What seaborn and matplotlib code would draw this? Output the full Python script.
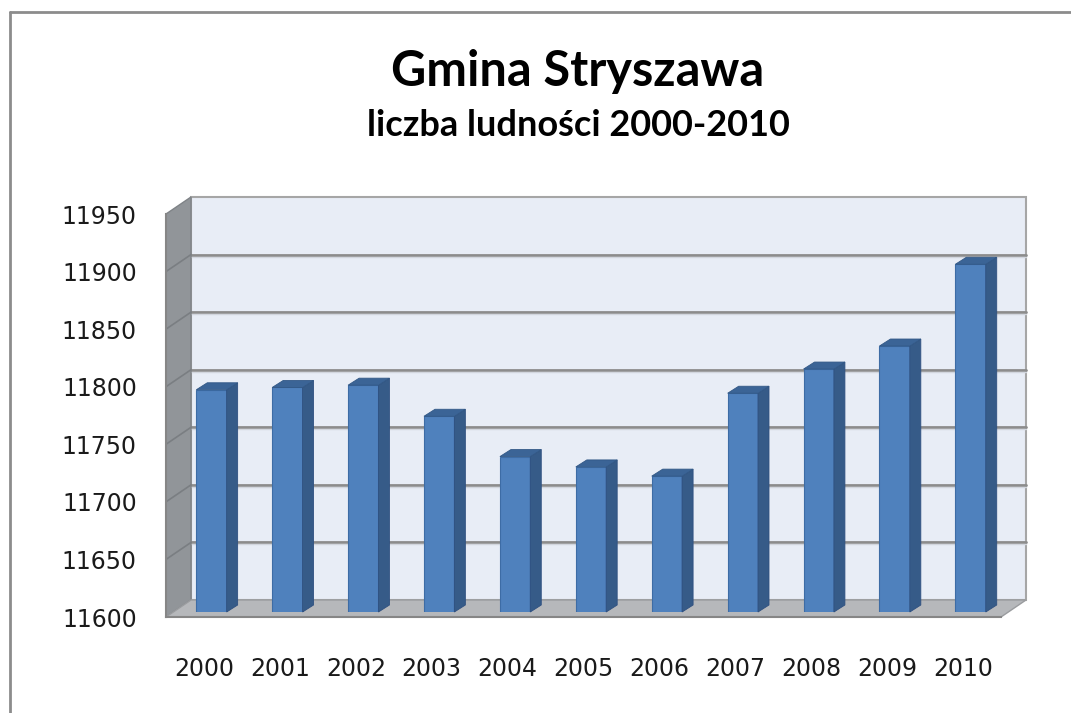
import numpy as np
import pandas as pd
import matplotlib
matplotlib.use("Agg")
import matplotlib.pyplot as plt
import seaborn as sns
from matplotlib.patches import Polygon
from matplotlib.lines import Line2D
from matplotlib.transforms import IdentityTransform

# data
years = ["2000", "2001", "2002", "2003", "2004", "2005",
         "2006", "2007", "2008", "2009", "2010"]
population = [11793, 11795, 11797, 11770, 11735, 11726,
              11718, 11790, 11811, 11831, 11902]
y_ticks = [11600, 11650, 11700, 11750, 11800, 11850, 11900, 11950]

title = "Gmina Stryszawa"
subtitle = "liczba ludności 2000-2010"

df = pd.DataFrame({"rok": years, "ludnosc": population})

sns.set_style("white")
plt.rcParams["font.family"] = ["Lato", "DejaVu Sans"]

W, H = 1071, 713
fig = plt.figure(figsize=(W / 100, H / 100), dpi=100)

# front plane of the 3d box (pixels from top-left of the image)
fx0, fx1, fy_top, fy_bot = 166, 1001, 214, 617
DX, DY = 25, 17          # depth of the box
BX, BY = 7.5, 5          # where the bar fronts sit
bdx, bdy = 11, 7         # depth of each bar

def fpos(x0, x1, ytop, ybot):
    return [x0 / W, 1 - ybot / H, (x1 - x0) / W, (ybot - ytop) / H]

ax = fig.add_axes(fpos(fx0, fx1, fy_top, fy_bot))
ax.set_facecolor("none")
ax.set_xlim(-0.5, 10.5)
ax.set_ylim(11600, 11950)

idt = IdentityTransform()

def px(x, y):
    # image pixel (top-left origin) -> display
    return (x, H - y)

# back wall
ax.add_patch(Polygon([px(fx0 + DX, fy_top - DY), px(fx1 + DX, fy_top - DY),
                      px(fx1 + DX, fy_bot - DY), px(fx0 + DX, fy_bot - DY)],
                     closed=True, transform=idt, facecolor="#e8edf6",
                     edgecolor="#a6a6a6", lw=1.5, clip_on=False, zorder=0))
# left wall
ax.add_patch(Polygon([px(fx0, fy_bot), px(fx0, fy_top),
                      px(fx0 + DX, fy_top - DY), px(fx0 + DX, fy_bot - DY)],
                     closed=True, transform=idt, facecolor="#919599",
                     edgecolor="#7f8387", lw=1, clip_on=False, zorder=0.5))
# floor
ax.add_patch(Polygon([px(fx0, fy_bot), px(fx1, fy_bot),
                      px(fx1 + DX, fy_bot - DY), px(fx0 + DX, fy_bot - DY)],
                     closed=True, transform=idt, facecolor="#b6b8bb",
                     edgecolor="#9a9c9f", lw=1, clip_on=False, zorder=0.5))

# gridlines on the back wall and the left wall
for v in y_ticks[1:-1]:
    yd = ax.transData.transform((0, v))[1]
    xl = ax.transData.transform((-0.5, v))[0]
    xr = ax.transData.transform((10.5, v))[0]
    ax.add_line(Line2D([xl + DX, xr + DX], [yd + DY, yd + DY], transform=idt,
                       color="#8c8c8c", lw=2, clip_on=False, zorder=0.3))
    ax.add_line(Line2D([xl + DX, xr + DX], [yd + DY - 2, yd + DY - 2], transform=idt,
                       color="#d2d6de", lw=1, clip_on=False, zorder=0.3))
    ax.add_line(Line2D([xl, xl + DX], [yd, yd + DY], transform=idt,
                       color="#7a7e82", lw=1.2, clip_on=False, zorder=0.6))

# bars: their own axes, shifted a bit into the box
axb = fig.add_axes(fpos(fx0 + BX, fx1 + BX, fy_top - BY, fy_bot - BY))
axb.set_facecolor("none")
sns.barplot(data=df, x="rok", y="ludnosc", color="#4f81bd", width=0.4,
            saturation=1, edgecolor="#3d6ca5", linewidth=0.8, ax=axb)
axb.set_xlim(-0.5, 10.5)
axb.set_ylim(11600, 11950)
axb.axis("off")

ybase = axb.transAxes.transform((0, 0))[1]
for p in axb.patches:
    x0 = axb.transData.transform((p.get_x(), 0))[0]
    x1 = axb.transData.transform((p.get_x() + p.get_width(), 0))[0]
    yt = axb.transData.transform((0, p.get_height()))[1]
    axb.add_patch(Polygon([(x1, ybase), (x1, yt), (x1 + bdx, yt + bdy), (x1 + bdx, ybase + bdy)],
                          closed=True, transform=idt, facecolor="#365b88",
                          edgecolor="#2f5080", lw=0.6, clip_on=False, zorder=3))
    axb.add_patch(Polygon([(x0, yt), (x1, yt), (x1 + bdx, yt + bdy), (x0 + bdx, yt + bdy)],
                          closed=True, transform=idt, facecolor="#3b6496",
                          edgecolor="#325886", lw=0.6, clip_on=False, zorder=3))

# axes, ticks and labels on the front plane
for s in ["top", "right"]:
    ax.spines[s].set_visible(False)
ax.spines["left"].set_color("#868686")
ax.spines["bottom"].set_color("#868686")
ax.spines["left"].set_linewidth(1.5)
ax.spines["bottom"].set_linewidth(1.5)
ax.set_yticks(y_ticks)
ax.set_yticklabels([str(v) for v in y_ticks], fontsize=17, color="#1a1a1a",
                   family=["DejaVu Sans"])
ax.tick_params(axis="y", length=7, width=1.5, color="#868686", pad=14)
ax.set_xticks(range(len(years)))
ax.set_xticklabels(years, fontsize=17, color="#1a1a1a", family=["DejaVu Sans"])
ax.set_xticks(np.arange(-0.5, 11, 1), minor=True)
ax.tick_params(axis="x", which="major", length=0, pad=29)
ax.tick_params(axis="x", which="minor", length=8, width=1.5, color="#868686")
ax.set_xlabel("")
ax.set_ylabel("")

fig.text(578 / W, 1 - 72 / H, title, ha="center", va="center",
         fontsize=35, fontweight="bold", color="black")
fig.text(578 / W, 1 - 125 / H, subtitle, ha="center", va="center",
         fontsize=26, fontweight="bold", color="black")

# chart border
fig.add_artist(Line2D([10 / W, 10 / W], [0, 1 - 12 / H], transform=fig.transFigure,
                      color="#8c8c8c", lw=2))
fig.add_artist(Line2D([10 / W, 1], [1 - 12 / H, 1 - 12 / H], transform=fig.transFigure,
                      color="#8c8c8c", lw=2))

fig.savefig("out.png", dpi=100)
